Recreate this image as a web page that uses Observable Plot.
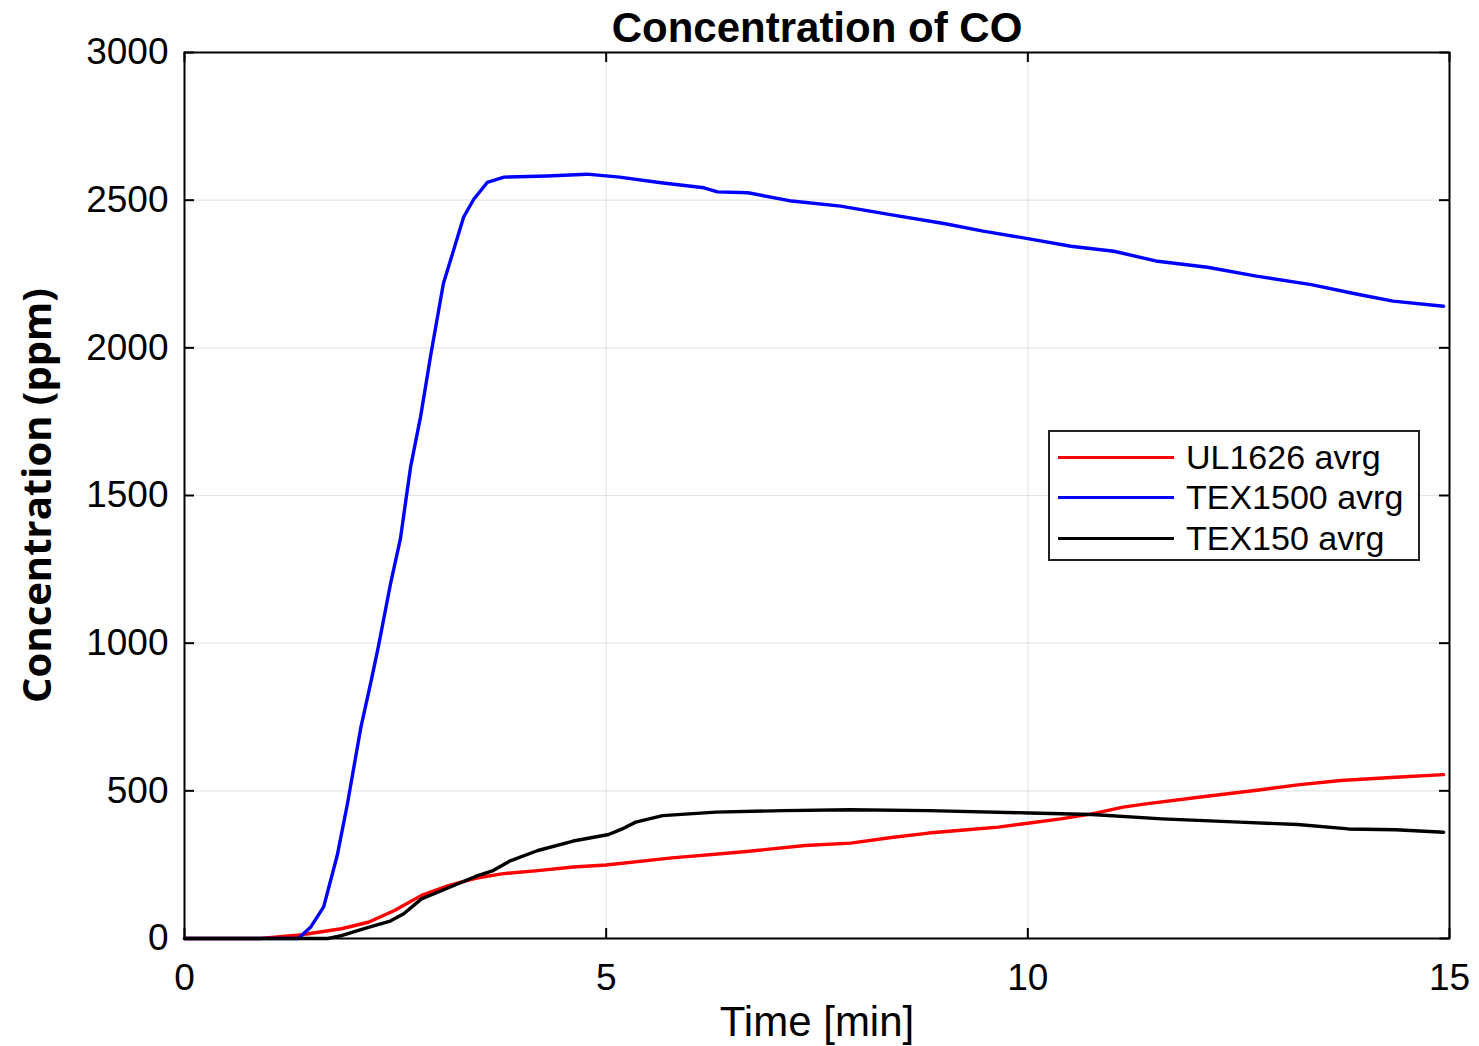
<!DOCTYPE html>
<html>
<head>
<meta charset="utf-8">
<script src="https://cdn.jsdelivr.net/npm/d3@7"></script>
<script src="https://cdn.jsdelivr.net/npm/@observablehq/plot@0.6"></script>
<style>
  body { margin: 0; background: #fff; }
  #wrap { position: relative; width: 1479px; height: 1046px; font-family: "Liberation Sans", Arial, sans-serif; }
  #legend { position: absolute; left: 1048px; top: 430px; width: 368px; height: 127px; border: 2px solid #222; background: #fff; box-sizing: content-box; }
  .item { position: absolute; left: 8px; height: 40px; display: flex; align-items: center; }
  .swatch { width: 116px; height: 3px; margin-right: 12px; }
  .item span { font-size: 34px; color: #000; white-space: nowrap; }
</style>
</head>
<body>
<div id="wrap"></div>
<script>
// CO concentration (ppm) versus time (min), averaged per test series
const ul1626Time = [0, 0.9, 1.37, 1.86, 2.18, 2.49, 2.81, 3.13, 3.45, 3.76, 4.19, 4.61, 5.0, 5.78, 6.57, 7.36, 7.90, 8.36, 8.82, 9.28, 9.65, 10.02, 10.39, 10.76, 11.13, 11.40, 12.05, 12.74, 13.20, 13.71, 14.36, 14.93];
const ul1626Ppm  = [0, 0, 12, 33, 55, 95, 146, 179, 204, 219, 230, 242, 249, 273, 292, 315, 323, 341, 357, 368, 377, 391, 405, 422, 445, 456, 479, 503, 520, 535, 546, 555];

const tex1500Time = [0, 1.35, 1.5, 1.65, 1.81, 1.93, 2.09, 2.21, 2.30, 2.44, 2.56, 2.68, 2.80, 2.92, 3.07, 3.19, 3.31, 3.43, 3.59, 3.79, 4.30, 4.77, 5.16, 5.65, 6.16, 6.32, 6.68, 7.20, 7.78, 8.37, 9.02, 9.47, 10.0, 10.51, 11.02, 11.54, 12.13, 12.71, 13.36, 13.88, 14.33, 14.93];
const tex1500Ppm  = [0, 0, 40, 107, 280, 453, 713, 868, 990, 1197, 1353, 1595, 1768, 1976, 2218, 2330, 2443, 2503, 2560, 2578, 2582, 2588, 2578, 2559, 2542, 2528, 2525, 2497, 2480, 2451, 2420, 2395, 2370, 2344, 2327, 2293, 2273, 2243, 2214, 2183, 2158, 2141];

const tex150Time = [0, 1.7, 1.86, 2.18, 2.44, 2.60, 2.81, 3.13, 3.45, 3.66, 3.87, 4.19, 4.61, 5.03, 5.19, 5.35, 5.67, 6.30, 7.10, 7.89, 8.82, 10.02, 10.76, 11.59, 12.51, 13.20, 13.80, 14.36, 14.93];
const tex150Ppm  = [0, 0, 10, 38, 59, 84, 134, 172, 210, 230, 264, 298, 330, 352, 371, 394, 416, 428, 433, 436, 433, 425, 420, 405, 394, 386, 371, 368, 360];

const seriesNames  = ["UL1626 avrg", "TEX1500 avrg", "TEX150 avrg"];
const seriesColors = ["#ff0000", "#0000ff", "#000000"];

const xTicks = [0, 5, 10, 15];
const yTicks = [0, 500, 1000, 1500, 2000, 2500, 3000];

const titleText = "Concentration of CO";
const xLabel = "Time [min]";
const yLabel = "Concentration (ppm)";

// long-format table for the line mark
const columns = [[ul1626Time, ul1626Ppm], [tex1500Time, tex1500Ppm], [tex150Time, tex150Ppm]];
const rows = columns.flatMap(([ts, vs], k) => ts.map((t, i) => ({series: seriesNames[k], t, ppm: vs[i]})));

const W = 1479, H = 1046;
const mL = 184, mR = 30, mT = 52, mB = 108;
const pw = W - mL - mR, ph = H - mT - mB;
const tickLen = 10;
const font = "Liberation Sans, Arial, sans-serif";
const plain = d => String(d);

const chart = Plot.plot({
  width: W,
  height: H,
  marginLeft: mL,
  marginRight: mR,
  marginTop: mT,
  marginBottom: mB,
  style: {fontFamily: font, background: "#fff", color: "#000"},
  x: {domain: [0, 15], ticks: xTicks, label: null},
  y: {domain: [0, 3000], ticks: yTicks, label: null},
  color: {domain: seriesNames, range: seriesColors},
  marks: [
    Plot.gridX(xTicks.slice(1, -1), {stroke: "#000", strokeOpacity: 0.1, strokeWidth: 1.2}),
    Plot.gridY(yTicks.slice(1, -1), {stroke: "#000", strokeOpacity: 0.1, strokeWidth: 1.2}),
    Plot.line(rows, {x: "t", y: "ppm", z: "series", stroke: "series", strokeWidth: 3.4, curve: "linear"}),
    // inward ticks on all four sides
    Plot.tickY(yTicks, {y: d => d, insetRight: pw - tickLen, stroke: "#000", strokeWidth: 2}),
    Plot.tickY(yTicks, {y: d => d, insetLeft: pw - tickLen, stroke: "#000", strokeWidth: 2}),
    Plot.tickX(xTicks, {x: d => d, insetTop: ph - tickLen, stroke: "#000", strokeWidth: 2}),
    Plot.tickX(xTicks, {x: d => d, insetBottom: ph - tickLen, stroke: "#000", strokeWidth: 2}),
    Plot.frame({stroke: "#000", strokeWidth: 2}),
    Plot.axisY(yTicks, {tickSize: 0, tickPadding: 16, fontSize: 37, fill: "#000", tickFormat: plain}),
    Plot.axisX(xTicks, {tickSize: 0, tickPadding: 25, fontSize: 37, fill: "#000", tickFormat: plain}),
    Plot.text([titleText], {frameAnchor: "top", lineAnchor: "bottom", dy: -11, fontSize: 42, fontWeight: "bold", fill: "#000"}),
    Plot.text([xLabel], {frameAnchor: "bottom", lineAnchor: "top", dy: 68, fontSize: 42, fill: "#000"}),
    Plot.text([yLabel], {frameAnchor: "left", textAnchor: "middle", rotate: -90, dx: -146, fontSize: 40, fontWeight: "bold", fontFamily: "Open Sans", fill: "#000"})
  ]
});

const wrap = document.getElementById("wrap");
wrap.appendChild(chart);

// legend box inside the axes, upper right
const legend = document.createElement("div");
legend.id = "legend";
seriesNames.forEach((name, i) => {
  const item = document.createElement("div");
  item.className = "item";
  item.style.top = (5 + i * 40.5) + "px";
  const sw = document.createElement("div");
  sw.className = "swatch";
  sw.style.background = seriesColors[i];
  const label = document.createElement("span");
  label.textContent = name;
  item.appendChild(sw);
  item.appendChild(label);
  legend.appendChild(item);
});
wrap.appendChild(legend);
</script>
</body>
</html>
